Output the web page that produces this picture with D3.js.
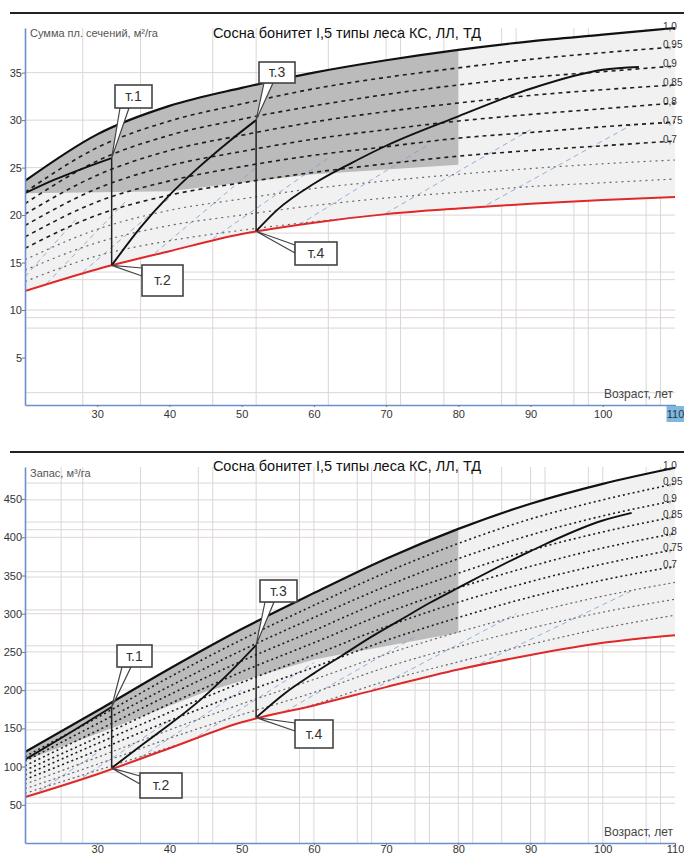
<!DOCTYPE html>
<html>
<head>
<meta charset="utf-8">
<script src="https://cdn.jsdelivr.net/npm/d3@7"></script>
<style>
body { margin: 0; background: #fff; }
svg { display: block; font-family: "Liberation Sans", Arial, sans-serif; }
</style>
</head>
<body>
<svg id="chart" width="684" height="855"></svg>
<script>
// возраст, лет
var ages = [20, 30, 40, 50, 60, 70, 80, 90, 100, 110];
var xTicks = [30, 40, 50, 60, 70, 80, 90, 100, 110];
var stockLabels = ["1,0", "0,95", "0,9", "0,85", "0,8", "0,75", "0,7", "", "", ""];

// --- верхний график: сумма площадей сечений, м2/га ---
var baStock = [
  [23.6, 28.5, 31.5, 33.4, 35.0, 36.3, 37.4, 38.3, 39.0, 39.7],
  [22.4, 27.1, 29.9, 31.7, 33.3, 34.5, 35.5, 36.4, 37.1, 37.7],
  [21.2, 25.7, 28.4, 30.1, 31.5, 32.7, 33.7, 34.5, 35.1, 35.7],
  [20.1, 24.2, 26.8, 28.4, 29.8, 30.9, 31.8, 32.6, 33.2, 33.7],
  [18.9, 22.8, 25.2, 26.7, 28.0, 29.0, 29.9, 30.6, 31.2, 31.8],
  [17.7, 21.4, 23.6, 25.1, 26.3, 27.2, 28.1, 28.7, 29.3, 29.8],
  [16.5, 20.0, 22.1, 23.4, 24.5, 25.4, 26.2, 26.8, 27.3, 27.8],
  [15.3, 18.5, 20.5, 21.7, 22.8, 23.6, 24.3, 24.9, 25.4, 25.8],
  [14.2, 17.1, 18.9, 20.0, 21.0, 21.8, 22.4, 23.0, 23.4, 23.8],
  [13.0, 15.7, 17.3, 18.4, 19.3, 20.0, 20.6, 21.1, 21.5, 21.8]
];
var baMin = [12.0, 14.3, 16.2, 18.0, 19.2, 20.1, 20.7, 21.2, 21.6, 21.9];
var baPath1 = [[20, 22.3], [24, 23.7], [28, 24.9], [32, 26.0]];
var baPath2 = [[32, 14.7], [36, 18.7], [40, 22.1], [44, 25.0], [48, 27.6], [52, 30.0]];
var baPath3 = [[52, 18.3], [55, 20.6], [60, 23.3], [65, 25.4], [70, 27.3], [80, 30.4], [90, 33.3], [100, 35.3], [105, 35.6]];
var baPoints = [
  {name: "т.1", age: 32, value: 26.0},
  {name: "т.2", age: 32, value: 14.7},
  {name: "т.3", age: 52, value: 30.0},
  {name: "т.4", age: 52, value: 18.3}
];
var baZoneLow = [[20, 22.3], [40, 22.5], [52, 23.6], [60, 24.3], [80, 25.3]];
var baTicks = [5, 10, 15, 20, 25, 30, 35];
var baGridX = [28, 36, 46, 52, 62, 70, 72, 78, 86, 88, 96, 98, 106, 108];
var baGridY = [1.3, 8.1, 9.2, 10, 13.2, 14, 18.1, 20, 25, 30, 35];
var baBlue = [
  [[20, 13.5], [27, 19.5]], [[23, 12.8], [34, 21.5]], [[28, 14.0], [40, 21.8]],
  [[38, 16.0], [52, 25.0]], [[46, 17.5], [62, 26.0]], [[58, 19.0], [76, 27.5]],
  [[70, 20.2], [90, 29.0]], [[84, 21.1], [104, 29.5]]
];

// --- нижний график: запас, м3/га ---
var volStock = [
  [119, 173, 228, 280, 327, 372, 411, 444, 470, 491],
  [113, 164, 217, 266, 311, 354, 392, 424, 449, 470],
  [107, 156, 205, 252, 295, 336, 372, 403, 428, 448],
  [101, 147, 194, 238, 278, 319, 353, 383, 407, 427],
  [95, 138, 182, 224, 262, 301, 334, 362, 386, 405],
  [89, 130, 171, 210, 246, 283, 315, 342, 365, 384],
  [83, 121, 160, 196, 230, 265, 295, 322, 344, 362],
  [77, 112, 148, 182, 214, 247, 276, 301, 323, 341],
  [71, 103, 137, 168, 197, 230, 257, 281, 302, 319],
  [65, 95, 125, 154, 181, 212, 237, 260, 281, 298]
];
var volMin = [60, 90, 124, 158, 180, 204, 227, 246, 262, 272];
var volPath1 = [[20, 109], [26, 143], [32, 178]];
var volPath2 = [[32, 98], [36, 127], [40, 155], [44, 185], [48, 220], [52, 259]];
var volPath3 = [[52, 164], [56, 196], [60, 222], [64, 246], [68, 270], [72, 292], [76, 314], [80, 334], [90, 382], [100, 422], [104, 432]];
var volPoints = [
  {name: "т.1", age: 32, value: 178},
  {name: "т.2", age: 32, value: 98},
  {name: "т.3", age: 52, value: 259},
  {name: "т.4", age: 52, value: 164}
];
var volZoneLow = [[20, 108], [32, 150], [45, 198], [60, 240], [80, 275]];
var volTicks = [50, 100, 150, 200, 250, 300, 350, 400, 450];
var volGridX = [25, 28, 36, 44, 46, 52, 58, 60, 66, 68, 74, 76, 80, 82, 86, 90, 92, 98, 100, 106, 108];
var volGridY = [52, 60, 92, 100, 148, 158, 200, 209, 250, 258, 300, 305, 348, 355, 400, 410, 420, 449, 471];
var volBlue = [
  [[22, 68], [30, 118]], [[28, 86], [40, 160]], [[36, 112], [50, 200]], [[44, 140], [60, 236]],
  [[56, 172], [74, 270]], [[68, 200], [88, 300]], [[82, 230], [104, 330]]
];

var title = "Сосна бонитет I,5 типы леса КС, ЛЛ, ТД";

var svg = d3.select("#chart");
svg.append("rect").attr("width", 684).attr("height", 855).attr("fill", "#fff");

var x = d3.scaleLinear().domain([20, 110]).range([25, 675]);

var panels = [
  {
    id: "top", stock: baStock, min: baMin, paths: [baPath1, baPath2, baPath3], points: baPoints,
    zone: baZoneLow, ticks: baTicks, gridX: baGridX, gridY: baGridY, blue: baBlue,
    yLabel: "Сумма пл. сечений, м²/га",
    y: d3.scaleLinear().domain([0, 39.7]).range([405, 28]),
    ruleY: 13, titleY: 38, yLabelY: 37, xLabelY: 398, xTickY: 418, hiLast: true,
    boxes: [
      {x: 115, y: 85, w: 37, h: 23, side: "bottom"},
      {x: 142, y: 265, w: 41, h: 31, side: "left"},
      {x: 259, y: 62, w: 36, h: 21, side: "bottom"},
      {x: 295, y: 242, w: 42, h: 23, side: "left"}
    ]
  },
  {
    id: "bot", stock: volStock, min: volMin, paths: [volPath1, volPath2, volPath3], points: volPoints,
    zone: volZoneLow, ticks: volTicks, gridX: volGridX, gridY: volGridY, blue: volBlue,
    yLabel: "Запас, м³/га",
    y: d3.scaleLinear().domain([0, 492]).range([843, 467]),
    ruleY: 452, titleY: 471, yLabelY: 477, xLabelY: 836, xTickY: 853, hiLast: false,
    boxes: [
      {x: 117, y: 645, w: 35, h: 22, side: "bottom"},
      {x: 140, y: 773, w: 42, h: 25, side: "left"},
      {x: 260, y: 580, w: 37, h: 22, side: "bottom"},
      {x: 295, y: 720, w: 38, h: 28, side: "left"}
    ]
  }
];

panels.forEach(function(p) {
  var y = p.y;
  var g = svg.append("g");
  var y0 = y.range()[0], y1 = y.range()[1];

  g.append("clipPath").attr("id", "clip-" + p.id)
    .append("rect").attr("x", 25).attr("y", y1 - 6).attr("width", 652).attr("height", y0 - y1 + 6);

  // область выше минимальной кривой
  var aboveMin = d3.area()
    .x(function(d, i) { return x(ages[i]); })
    .y0(function(d) { return y(d); })
    .y1(y1 - 10)
    .curve(d3.curveMonotoneX);
  g.append("clipPath").attr("id", "above-" + p.id)
    .append("path").attr("d", aboveMin(p.min));

  var plot = g.append("g").attr("clip-path", "url(#clip-" + p.id + ")");

  // сетка
  plot.selectAll(".gx").data(p.gridX).enter().append("line")
    .attr("x1", function(d) { return x(d); }).attr("x2", function(d) { return x(d); })
    .attr("y1", y0).attr("y2", y1)
    .attr("stroke", "#ddd5d5").attr("stroke-width", 1);
  plot.selectAll(".gy").data(p.gridY).enter().append("line")
    .attr("x1", 25).attr("x2", 675)
    .attr("y1", function(d) { return y(d); }).attr("y2", function(d) { return y(d); })
    .attr("stroke", "#ddd5d5").attr("stroke-width", 1);

  var line = d3.line()
    .x(function(d) { return x(d[0]); })
    .y(function(d) { return y(d[1]); })
    .curve(d3.curveMonotoneX);
  var byAge = function(arr) { return arr.map(function(v, i) { return [ages[i], v]; }); };

  // светлая подложка между минимальной и полной кривой
  var band = d3.area()
    .x(function(d) { return x(d[0]); })
    .y0(function(d) { return y(d[1]); })
    .y1(function(d) { return y(d[2]); })
    .curve(d3.curveMonotoneX);
  plot.append("path")
    .attr("d", band(ages.map(function(a, i) { return [a, p.min[i], p.stock[0][i]]; })))
    .attr("fill", "#f1f1f1");

  // серая зона (до 80 лет)
  var full80 = byAge(p.stock[0]).filter(function(d) { return d[0] <= 80; });
  var zoneLine = d3.line().x(function(d) { return x(d[0]); }).y(function(d) { return y(d[1]); });
  plot.append("path")
    .attr("d", line(full80) + "L" + zoneLine(p.zone.slice().reverse()).slice(1) + "Z")
    .attr("fill", "#bbbbbb");

  var inner = plot.append("g").attr("clip-path", "url(#above-" + p.id + ")");

  // голубые линии хода роста
  inner.selectAll(".blue").data(p.blue).enter().append("path")
    .attr("d", function(d) { return line(d); })
    .attr("fill", "none").attr("stroke", "#7c9fd6")
    .attr("stroke-width", 1).attr("stroke-dasharray", "5,4").attr("opacity", 0.8);

  // линии полноты
  inner.selectAll(".stock").data(p.stock.slice(1)).enter().append("path")
    .attr("d", function(d) { return line(byAge(d)); })
    .attr("fill", "none")
    .attr("stroke", function(d, i) { return i < 6 ? "#1e1e1e" : "#666"; })
    .attr("stroke-width", function(d, i) { return i < 6 ? 1.6 : 1.2; })
    .attr("stroke-dasharray", function(d, i) { return p.id === "top" ? (i < 6 ? "4,4" : "2,4") : "2,3"; });

  // полная кривая (1,0)
  plot.append("path").attr("d", line(byAge(p.stock[0])))
    .attr("fill", "none").attr("stroke", "#111").attr("stroke-width", 2.2);

  // минимальная кривая
  plot.append("path").attr("d", line(byAge(p.min)))
    .attr("fill", "none").attr("stroke", "#e02828").attr("stroke-width", 2);

  // ход выращивания с рубками ухода
  plot.selectAll(".path").data(p.paths).enter().append("path")
    .attr("d", function(d) { return line(d); })
    .attr("fill", "none").attr("stroke", "#111").attr("stroke-width", 1.9);
  [[0, 1], [2, 3]].forEach(function(pair) {
    var a = p.points[pair[0]], b = p.points[pair[1]];
    plot.append("line")
      .attr("x1", x(a.age)).attr("x2", x(b.age))
      .attr("y1", y(a.value)).attr("y2", y(b.value))
      .attr("stroke", "#222").attr("stroke-width", 1.5);
  });

  // оси
  var yAxis = g.append("g").attr("transform", "translate(25,0)")
    .call(d3.axisLeft(y).tickValues(p.ticks).tickSize(3).tickSizeOuter(0));
  yAxis.select(".domain").attr("stroke", "#6b8fcc").attr("stroke-width", 1.6);
  yAxis.selectAll(".tick line").attr("stroke", "#777");
  yAxis.selectAll("text").attr("font-size", 11).attr("fill", "#333").attr("x", -3)
    .attr("font-family", "Liberation Sans, Arial, sans-serif");

  var xAxis = g.append("g").attr("transform", "translate(0," + y0 + ")")
    .call(d3.axisBottom(x).tickValues(xTicks).tickSize(2).tickSizeOuter(0).tickFormat(d3.format("d")));
  xAxis.select(".domain").attr("stroke", "#6b8fcc").attr("stroke-width", 1.6);
  xAxis.selectAll(".tick line").attr("stroke", "#777");
  xAxis.selectAll("text").attr("font-size", 11).attr("fill", "#333")
    .attr("y", p.xTickY - y0).attr("dy", 0)
    .attr("font-family", "Liberation Sans, Arial, sans-serif");
  if (p.hiLast) {
    xAxis.selectAll(".tick").filter(function(d) { return d === 110; })
      .insert("rect", "text").attr("x", -9).attr("y", 1).attr("width", 18).attr("height", 16)
      .attr("fill", "#7db8e0");
  }

  // подписи полноты
  g.selectAll(".slab").data(p.stock.filter(function(d, i) { return stockLabels[i]; })).enter().append("text")
    .attr("x", 663).attr("y", function(d) { return y(d[d.length - 1]) - 2; })
    .attr("dy", "0.35em").attr("font-size", 10).attr("fill", "#333")
    .text(function(d, i) { return stockLabels[i]; });

  // подписи осей и заголовок
  g.append("text").attr("x", 30).attr("y", p.yLabelY).attr("font-size", 11).attr("fill", "#555")
    .text(p.yLabel);
  g.append("text").attr("x", 673).attr("y", p.xLabelY).attr("text-anchor", "end")
    .attr("font-size", 12).attr("fill", "#444").text("Возраст, лет");
  g.append("text").attr("x", 347).attr("y", p.titleY).attr("text-anchor", "middle")
    .attr("font-size", 14.5).attr("fill", "#111").text(title);
  g.append("line").attr("x1", 10).attr("x2", 684).attr("y1", p.ruleY).attr("y2", p.ruleY)
    .attr("stroke", "#222").attr("stroke-width", 2);

  // выноски т.1 – т.4
  p.points.forEach(function(pt, i) {
    var b = p.boxes[i];
    var tx = x(pt.age), ty = y(pt.value);
    var base = b.side === "bottom"
      ? [[b.x + 5, b.y + b.h], [b.x + 14, b.y + b.h]]
      : [[b.x, b.y + 3], [b.x, b.y + 11]];
    g.append("path")
      .attr("d", "M" + base[0] + "L" + tx + "," + ty + "L" + base[1] + "Z")
      .attr("fill", "#fff").attr("stroke", "#444").attr("stroke-width", 1.2);
    g.append("rect").attr("x", b.x).attr("y", b.y).attr("width", b.w).attr("height", b.h)
      .attr("fill", "#fff").attr("stroke", "#444").attr("stroke-width", 1.6);
    g.append("text").attr("x", b.x + b.w / 2).attr("y", b.y + b.h / 2)
      .attr("dy", "0.35em").attr("text-anchor", "middle")
      .attr("font-size", 14).attr("fill", "#333").text(pt.name);
  });
});
</script>
</body>
</html>
